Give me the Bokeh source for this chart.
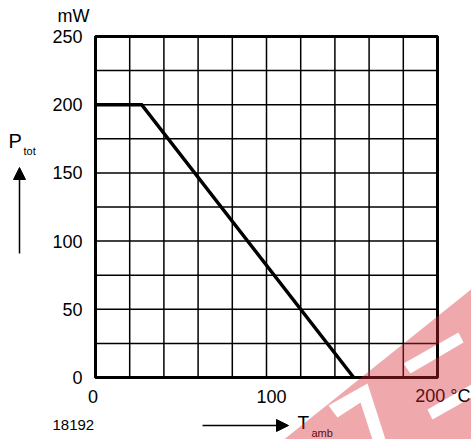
from bokeh.plotting import figure
from bokeh.models import Range1d, Arrow, NormalHead
from bokeh.core.properties import value
from bokeh.embed import file_html
from bokeh.resources import INLINE

# ---- data ----
temp_c = [0, 27, 151]          # T_amb (°C)
power_mw = [200, 200, 0]       # P_tot (mW)
y_ticks = [0, 50, 100, 150, 200, 250]
y_tick_labels = ["0", "50", "100", "150", "200", "250"]
y_grid = [0, 25, 50, 75, 100, 125, 150, 175, 200, 225, 250]
x_grid = [0, 20, 40, 60, 80, 100, 120, 140, 160, 180, 200]
x_ticks = [0, 100, 200]
x_tick_labels = ["0", "100", "200 °C"]
X_MAX, Y_MAX = 200, 250

FONT = "Liberation Sans"
W, H = 471, 439

# layout: data box spans page pixels x 95..437, y 36..377
PX0, PX1, PY0, PY1 = 95.0, 437.0, 377.0, 36.0
SX = (PX1 - PX0) / X_MAX
SY = (PY0 - PY1) / Y_MAX


def dx(px):
    return (px - PX0) / SX


def dy(py):
    return (PY0 - py) / SY


p = figure(width=W, height=H, output_backend="svg", toolbar_location=None,
           x_range=Range1d(dx(0), dx(W)), y_range=Range1d(dy(H), dy(0)),
           x_axis_location=None, y_axis_location=None,
           min_border=0)
p.outline_line_color = None
p.grid.visible = False
p.background_fill_color = "white"
p.border_fill_color = "white"

# grid
p.segment(x0=x_grid, y0=[0] * len(x_grid), x1=x_grid, y1=[Y_MAX] * len(x_grid),
          line_color="black", line_width=1.5)
p.segment(x0=[0] * len(y_grid), y0=y_grid, x1=[X_MAX] * len(y_grid), y1=y_grid,
          line_color="black", line_width=1.5)

# data line
p.line(temp_c, power_mw, line_color="black", line_width=3.5, line_join="miter")

# frame
p.quad(left=[0], right=[X_MAX], bottom=[0], top=[Y_MAX], fill_color=None,
       line_color="black", line_width=3)

TF = value(FONT)

# y tick labels
p.text(x=[dx(82)] * len(y_ticks), y=y_ticks, text=y_tick_labels, text_font=TF,
       text_font_size=value("18px"), text_align="right", text_baseline="middle",
       text_color="black")

# x tick labels (positions from tick values, with small offsets as in the original)
x_lab_off = [dx(92.5) - 0, dx(271) - 100, dx(470) - 200]
p.text(x=[t + o for t, o in zip(x_ticks, x_lab_off)], y=[dy(395.5)] * 3, text=x_tick_labels,
       text_font=TF, text_font_size=value("18px"),
       text_align=["center", "center", "right"], text_baseline="middle",
       text_color="black")


def lab(text, px, py, size, align="left"):
    p.text(x=[dx(px)], y=[dy(py)], text=[text], text_font=TF,
           text_font_size=value(size), text_align=align,
           text_baseline="middle", text_color="black")


lab("mW", 89, 15, "18px", "right")
lab("P", 8, 140, "20px")
lab("tot", 23, 150, "11px")
lab("18192", 52, 424.5, "15px")
lab("T", 297, 422, "19px")
lab("amb", 311, 432, "11px")

# arrows
p.add_layout(Arrow(x_start=dx(19), y_start=dy(253), x_end=dx(19), y_end=dy(167),
                   line_width=1.5, line_color="black",
                   end=NormalHead(size=12, fill_color="black", line_color="black")))
p.add_layout(Arrow(x_start=dx(202), y_start=dy(425), x_end=dx(288), y_end=dy(425),
                   line_width=1.5, line_color="black",
                   end=NormalHead(size=12, fill_color="black", line_color="black")))

# watermark (semi-transparent red band with white cut-outs)
outer = [(276, 445), (478, 283), (478, 445)]
hole_a = [(328, 405), (367, 383), (385, 439), (372, 439), (360, 402), (337, 417)]
hole_b = [(403, 363), (458, 332), (463, 342), (410, 373)]
hole_c = [(427, 409), (471, 384), (471, 397), (432, 419)]
rings = [outer, hole_a, hole_b, hole_c]
xs = [[[[dx(px) for px, _ in r] for r in rings]]]
ys = [[[[dy(py) for _, py in r] for r in rings]]]
p.multi_polygons(xs=xs, ys=ys, fill_color="#d72832", fill_alpha=0.4, line_color=None)

open("out.html", "w").write(file_html(p, INLINE))
